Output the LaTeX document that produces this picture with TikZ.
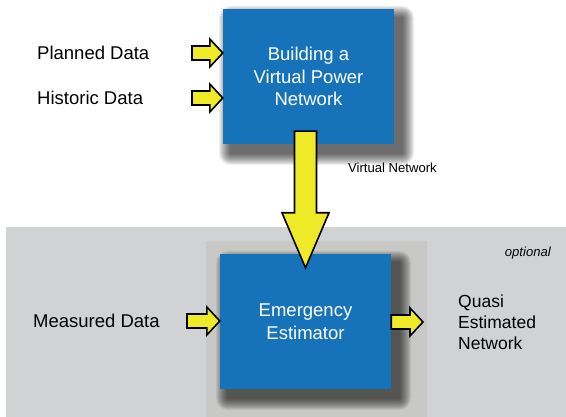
\documentclass[tikz,border=0pt]{standalone}
\usepackage{fontspec}
\setmainfont{Liberation Sans}
\usetikzlibrary{calc}
\definecolor{boxblue}{RGB}{22,115,186}
\definecolor{arrowyellow}{RGB}{238,234,40}
\definecolor{outergray}{RGB}{209,210,212}
\definecolor{innergray}{RGB}{200,201,198}
\newcommand\softshadow[4]{%
  \foreach \i in {0,...,11}{%
    \pgfmathsetmacro\r{12-\i}%
    \fill[black, opacity=0.065, rounded corners=\r pt]
      (#1+8-\r, #2+9-\r) rectangle (#3+8+\r, #4+9+\r);
  }}
\tikzset{
  bluebox/.style={fill=boxblue, draw=none, text=white, align=center,
    font=\fontsize{18.5}{22.5}\selectfont},
  lbl/.style={font=\fontsize{18.5}{22.5}\selectfont, inner sep=0pt},
  small/.style={font=\fontsize{13.1}{15}\selectfont, inner sep=0pt},
  rarrow/.style={fill=arrowyellow, draw=black, line width=1.6pt, line join=miter,
    to path={let \p1=(\tikztostart), \p2=(\tikztotarget) in
      (\x1,\y1-7) -- (\x2-13,\y1-7) -- (\x2-13,\y1-14) -- (\x2,\y1)
      -- (\x2-13,\y1+14) -- (\x2-13,\y1+7) -- (\x1,\y1+7) -- cycle}},
  darrow/.style={fill=arrowyellow, draw=black, line width=1.6pt, line join=miter,
    to path={let \p1=(\tikztostart), \p2=(\tikztotarget) in
      (\x1-11,\y1) -- (\x1-11,\y2+55) -- (\x1-23.5,\y2+55) -- (\x1,\y2)
      -- (\x1+23.5,\y2+55) -- (\x1+11,\y2+55) -- (\x1+11,\y1) -- cycle}}
}
\begin{document}
\begin{tikzpicture}[x=1pt,y=-1pt]
\useasboundingbox (0,0) rectangle (566,417);
\fill[white] (0,0) rectangle (566,417);
% background regions
\fill[outergray] (6,227) rectangle (566,417);
\fill[innergray] (206,241) rectangle (427,417);
% shadows
\softshadow{223}{9}{394}{144}
\softshadow{220}{254}{391}{389}
% boxes
\node[bluebox, minimum width=171pt, minimum height=135pt] (top) at (308.5,76.5)
  {Building a\\Virtual Power\\Network};
\node[bluebox, minimum width=171pt, minimum height=135pt] (est) at (305.5,321.5)
  {Emergency\\Estimator};
% labels
\node[lbl, anchor=west] (pd) at (37,53) {Planned Data};
\node[lbl, anchor=west] (hd) at (37,98) {Historic Data};
\node[lbl, anchor=west] (md) at (33,321) {Measured Data};
\node[small, anchor=west] (vn) at (348,168) {Virtual Network};
\node[small, anchor=east, font=\fontsize{13.1}{15}\selectfont\itshape] (opt) at (551,253) {optional};
\node[lbl, anchor=north west, align=left, font=\fontsize{17.5}{21}\selectfont] (qen) at (458,295)
  {Quasi\\Estimated\\Network};
% arrow anchors
\coordinate (pdA) at (192,53);
\coordinate (hdA) at (192,98);
\coordinate (mdA) at (187,321);
\coordinate (outT) at (423,322);
\coordinate (downS) at ($(est.north|-top.south)+(0,-13)$);
\coordinate (downT) at ($(est.north)+(0,14)$);
% arrows
\draw[rarrow] (pdA) to (pdA-|top.west);
\draw[rarrow] (hdA) to (hdA-|top.west);
\draw[rarrow] (mdA) to (mdA-|est.west);
\draw[rarrow] (outT-|est.east) to (outT);
\draw[darrow] (downS) to (downT);
\end{tikzpicture}
\end{document}
